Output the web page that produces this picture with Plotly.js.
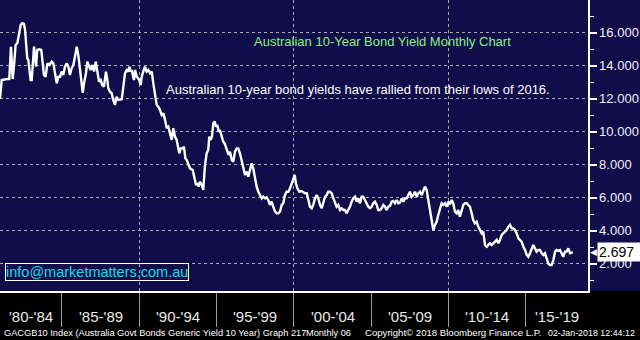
<!DOCTYPE html>
<html>
<head>
<meta charset="utf-8">
<script src="https://cdn.plot.ly/plotly-3.0.1.min.js"></script>
<style>
  html, body { margin: 0; padding: 0; background: #000; }
  #chart { width: 640px; height: 340px; }
</style>
</head>
<body>
<div id="chart"></div>
<script>
// Australian 10-year bond yield, monthly (decimal year, yield %)
const years = [
  1981.00,1981.11,1981.47,1981.60,1981.71,1981.82,1981.90,1982.01,1982.12,1982.25,
  1982.34,1982.44,1982.55,1982.62,1982.68,1982.76,1982.83,1982.89,1982.98,1983.05,
  1983.11,1983.20,1983.26,1983.33,1983.41,1983.54,1983.67,1983.76,1983.84,1983.95,
  1984.06,1984.19,1984.34,1984.45,1984.56,1984.67,1984.77,1984.88,1984.99,1985.09,
  1985.20,1985.31,1985.42,1985.52,1985.63,1985.74,1985.85,1985.96,1986.06,1986.17,
  1986.28,1986.35,1986.43,1986.56,1986.64,1986.77,1986.86,1986.99,1987.08,1987.19,
  1987.29,1987.40,1987.51,1987.61,1987.72,1987.85,1987.94,1988.00,1988.11,1988.22,
  1988.32,1988.43,1988.54,1988.65,1988.87,1988.97,1989.08,1989.19,1989.29,1989.36,
  1989.45,1989.51,1989.58,1989.66,1989.73,1989.84,1989.94,1990.00,1990.09,1990.16,
  1990.26,1990.37,1990.48,1990.59,1990.70,1990.81,1990.91,1991.02,1991.13,1991.23,
  1991.34,1991.45,1991.56,1991.67,1991.78,1991.88,1991.99,1992.10,1992.20,1992.31,
  1992.42,1992.53,1992.59,1992.68,1992.81,1992.89,1992.98,1993.07,1993.17,1993.28,
  1993.46,1993.54,1993.67,1993.75,1993.84,1993.93,1994.04,1994.14,1994.25,1994.36,
  1994.46,1994.53,1994.62,1994.70,1994.79,1994.88,1994.96,1995.05,1995.14,1995.22,
  1995.33,1995.43,1995.52,1995.61,1995.69,1995.78,1995.87,1995.98,1996.08,1996.19,
  1996.30,1996.40,1996.51,1996.62,1996.73,1996.84,1996.95,1997.05,1997.16,1997.27,
  1997.37,1997.48,1997.59,1997.70,1997.81,1997.92,1998.02,1998.13,1998.24,1998.34,
  1998.45,1998.56,1998.67,1998.78,1998.89,1998.99,1999.10,1999.21,1999.31,1999.42,
  1999.53,1999.64,1999.75,1999.86,1999.96,2000.05,2000.13,2000.22,2000.35,2000.46,
  2000.57,2000.72,2000.83,2000.93,2001.04,2001.15,2001.25,2001.36,2001.47,2001.58,
  2001.69,2001.80,2001.90,2002.01,2002.12,2002.22,2002.33,2002.44,2002.55,2002.65,
  2002.76,2002.87,2002.98,2003.09,2003.19,2003.30,2003.41,2003.51,2003.62,2003.73,
  2003.84,2003.95,2004.06,2004.16,2004.27,2004.38,2004.48,2004.59,2004.70,2004.81,
  2004.92,2005.03,2005.13,2005.24,2005.35,2005.45,2005.56,2005.67,2005.78,2005.89,
  2005.99,2006.10,2006.21,2006.32,2006.42,2006.53,2006.64,2006.75,2006.86,2006.97,
  2007.07,2007.18,2007.29,2007.40,2007.50,2007.61,2007.72,2007.83,2007.94,2008.04,
  2008.15,2008.26,2008.36,2008.47,2008.58,2008.69,2008.80,2008.91,2009.01,2009.12,
  2009.23,2009.33,2009.44,2009.55,2009.66,2009.77,2009.88,2009.98,2010.09,2010.20,
  2010.30,2010.41,2010.52,2010.62,2010.73,2010.84,2010.95,2011.06,2011.17,2011.27,
  2011.38,2011.49,2011.59,2011.70,2011.81,2011.92,2012.03,2012.14,2012.24,2012.35,
  2012.46,2012.56,2012.67,2012.78,2012.89,2013.00,2013.11,2013.21,2013.32,2013.43,
  2013.53,2013.64,2013.75,2013.86,2013.97,2014.08,2014.18,2014.29,2014.40,2014.51,
  2014.61,2014.72,2014.83,2014.94,2015.05,2015.15,2015.26,2015.37,2015.47,2015.58,
  2015.69,2015.80,2015.91,2016.02,2016.12,2016.23,2016.34,2016.44,2016.55,2016.66,
  2016.77,2016.88,2016.99,2017.09,2017.20,2017.31,2017.41,2017.52,2017.63,2017.74,
  2017.85,2017.96,2018.02
];
const yields = [
  11.98,13.13,13.19,13.19,15.15,13.19,13.94,15.25,15.36,16.16,
  16.47,16.57,16.53,16.16,15.36,14.45,14.35,13.74,13.13,13.13,
  13.94,15.15,14.55,13.94,14.95,14.99,14.95,13.94,13.44,13.33,
  14.14,14.04,14.24,14.14,13.64,12.93,13.33,13.33,13.64,13.44,
  13.94,14.14,13.94,13.44,13.84,14.04,14.55,15.15,14.65,13.74,
  13.13,12.36,12.93,13.54,14.24,13.94,13.74,14.04,13.64,14.24,
  13.74,13.03,13.13,12.83,12.73,13.64,13.13,12.63,12.42,12.33,
  11.92,11.62,12.12,11.92,11.96,12.73,13.54,13.74,13.64,13.94,
  13.64,13.74,13.44,13.13,13.74,13.33,13.23,13.13,12.83,13.33,
  13.64,13.94,13.64,13.74,13.54,13.64,12.93,12.12,11.62,11.52,
  11.32,11.01,11.12,10.71,10.21,10.30,9.90,9.50,10.21,9.70,
  9.50,9.09,8.69,8.99,8.99,9.09,8.39,8.28,7.98,7.78,
  7.68,7.27,6.77,6.87,6.67,6.97,6.77,6.47,7.98,8.69,
  8.89,9.70,9.50,9.70,10.51,10.61,10.30,10.41,10.00,10.10,
  9.70,9.39,9.29,8.99,8.89,8.59,8.79,8.28,8.18,8.79,
  8.99,8.99,8.69,8.18,7.78,7.38,7.58,7.27,7.68,8.08,
  7.78,7.07,6.67,6.36,6.16,5.96,6.06,5.96,6.02,5.86,
  5.56,5.76,5.45,5.15,5.05,5.05,5.15,5.56,5.66,6.16,
  6.36,6.36,6.57,6.87,7.07,7.38,6.87,6.57,6.36,6.40,
  6.36,6.27,6.27,5.86,5.45,5.36,5.56,5.96,6.16,5.96,
  5.56,5.36,5.76,6.06,6.16,6.36,6.36,6.27,5.96,5.66,
  5.45,5.56,5.25,5.36,5.25,5.25,5.05,5.25,5.45,5.76,
  5.96,6.06,5.76,5.96,5.66,6.06,6.06,5.86,5.66,5.45,
  5.36,5.45,5.66,5.76,5.56,5.25,5.25,5.36,5.56,5.45,
  5.25,5.45,5.50,5.76,5.80,5.66,5.86,5.66,5.70,5.96,
  5.76,5.96,5.96,6.16,6.36,6.06,6.16,6.36,6.06,6.26,
  6.36,6.16,6.36,6.67,6.47,5.86,5.36,4.65,4.04,4.35,
  4.55,4.95,5.36,5.66,5.56,5.66,5.45,5.76,5.60,5.86,
  5.66,5.15,5.05,5.25,4.85,5.25,5.56,5.66,5.66,5.56,
  5.45,5.05,4.65,4.45,4.55,4.24,4.04,3.84,3.94,3.13,
  3.03,3.13,3.24,3.13,3.24,3.33,3.44,3.24,3.44,3.74,
  3.84,3.94,4.04,4.24,4.35,4.14,4.14,4.04,3.84,3.54,
  3.44,3.33,3.03,2.83,2.53,2.42,2.63,2.93,3.13,2.93,
  2.73,2.83,2.83,2.63,2.53,2.63,2.33,2.02,1.92,1.92,
  2.22,2.73,2.83,2.78,2.83,2.63,2.42,2.73,2.73,2.93,
  2.63,2.67,2.697
];

// Axis ticks / labels
const periodLabels = ["'80-'84","'85-'89","'90-'94","'95-'99","'00-'04","'05-'09","'10-'14","'15-'19"];
const periodLabelPos = [1983.0, 1987.5, 1992.5, 1997.5, 2002.5, 2007.5, 2012.5, 2017.0];
const decadeLines = [1990, 2000, 2010];
const halfDecadeLines = [1985, 1995, 2005, 2015];
const yTickVals = [2, 4, 6, 8, 10, 12, 14, 16];
const yTickText = ['2.000','4.000','6.000','8.000','10.000','12.000','14.000','16.000'];
const yMinorVals = [1, 3, 5, 7, 9, 11, 13, 15, 17];

const titleText = 'Australian 10-Year Bond Yield Monthly Chart';
const noteText = 'Australian 10-year bond yields have rallied from their lows of 2016.';
const emailText = 'info@marketmatters.com.au';
const footer1 = 'GACGB10 Index (Australia Govt Bonds Generic Yield 10 Year) Graph 217';
const footer2 = 'Monthly 06';
const footer3 = 'Copyright\u00A9 2018 Bloomberg Finance L.P.';
const footer4 = '02-Jan-2018 12:44:12';

const navy = '#100d4a';
const FONT = 'Liberation Sans, Arial, sans-serif';
const lastVal = yields[yields.length - 1];

const traces = [
  { type: 'scatter', mode: 'lines', x: years, y: yields,
    line: { color: '#ffffff', width: 2.4 }, hoverinfo: 'skip' }
];

const periodAnnotations = periodLabels.map((t, i) => ({
  xref: 'x', yref: 'paper', x: periodLabelPos[i], y: -0.0883,
  xanchor: 'center', yanchor: 'middle', text: t, showarrow: false,
  font: { family: FONT, size: 15, color: '#e8e8e8' }
}));

const footY = -0.1443;
const layout = {
  width: 640, height: 340,
  margin: { l: 0, r: 52, t: 0, b: 49, pad: 0 },
  paper_bgcolor: '#000000',
  plot_bgcolor: navy,
  showlegend: false,
  font: { family: FONT, color: '#ffffff' },
  xaxis: {
    type: 'linear', range: [1981.0, 2019.01], automargin: false,
    tickmode: 'array', tickvals: decadeLines, showticklabels: false,
    ticks: 'outside', ticklen: 34, tickcolor: '#9a9a9a', tickwidth: 1,
    showgrid: true, gridcolor: '#a8a8a8', griddash: 'dot', gridwidth: 1,
    minor: { tickmode: 'array', tickvals: halfDecadeLines, ticks: 'outside', ticklen: 34,
             tickcolor: '#9a9a9a', tickwidth: 1, showgrid: false },
    showline: true, linecolor: '#ffffff', linewidth: 1.5, zeroline: false
  },
  yaxis: {
    side: 'right', range: [0.345, 17.98], automargin: false,
    tickmode: 'array', tickvals: yTickVals, ticktext: yTickText,
    ticks: 'outside', ticklen: 7, tickwidth: 2, tickcolor: '#ffffff',
    tickfont: { family: FONT, size: 13, color: '#f0f0f8' },
    minor: { tickmode: 'array', tickvals: yMinorVals, ticks: 'outside', ticklen: 4,
             tickcolor: '#ffffff', tickwidth: 1, showgrid: false },
    showgrid: true, gridcolor: '#a8a8a8', griddash: 'dot', gridwidth: 1,
    showline: true, linecolor: '#ffffff', linewidth: 1.5, zeroline: false
  },
  shapes: [
    { type: 'rect', xref: 'paper', yref: 'paper', x0: 1, x1: 1.2, y0: 0, y1: 1,
      fillcolor: navy, line: { width: 0 }, layer: 'below' }
  ],
  annotations: periodAnnotations.concat([
    { xref: 'paper', yref: 'paper', x: 0.6497, y: 0.859, xanchor: 'center', yanchor: 'middle',
      text: titleText, showarrow: false, font: { family: FONT, size: 13, color: '#84f084' } },
    { xref: 'paper', yref: 'paper', x: 0.608, y: 0.694, xanchor: 'center', yanchor: 'middle',
      text: noteText, showarrow: false, font: { family: FONT, size: 13, color: '#ffffff' } },
    { xref: 'paper', yref: 'paper', x: 0.0085, y: 0.0653, xanchor: 'left', yanchor: 'middle',
      text: emailText, showarrow: false, bordercolor: '#ffffff', borderwidth: 1, borderpad: 0,
      font: { family: FONT, size: 14.5, color: '#12dce6' } },
    { xref: 'paper', yref: 'y', x: 1, y: lastVal, xanchor: 'left', yanchor: 'middle', xshift: 9,
      text: lastVal.toFixed(3), showarrow: false, bgcolor: '#ffffff', width: 41, align: 'left',
      borderpad: 1, font: { family: FONT, size: 14, color: '#000000' } },
    { xref: 'paper', yref: 'y', x: 1, y: lastVal, xanchor: 'left', yanchor: 'middle', xshift: 0,
      text: '\u25C0', showarrow: false, font: { family: 'DejaVu Sans', size: 9, color: '#ffffff' } },
    { xref: 'paper', yref: 'paper', x: 2/588, y: footY, xanchor: 'left', yanchor: 'middle',
      text: footer1, showarrow: false, font: { family: FONT, size: 9.25, color: '#ffffff' } },
    { xref: 'paper', yref: 'paper', x: 304/588, y: footY, xanchor: 'left', yanchor: 'middle',
      text: footer2, showarrow: false, font: { family: FONT, size: 9.2, color: '#ffffff' } },
    { xref: 'paper', yref: 'paper', x: 363/588, y: footY, xanchor: 'left', yanchor: 'middle',
      text: footer3, showarrow: false, font: { family: FONT, size: 9.6, color: '#ffffff' } },
    { xref: 'paper', yref: 'paper', x: 637/588, y: footY, xanchor: 'right', yanchor: 'middle',
      text: footer4, showarrow: false, font: { family: FONT, size: 8.9, color: '#ffffff' } }
  ])
};

Plotly.newPlot('chart', traces, layout, { displayModeBar: false, staticPlot: true });
</script>
</body>
</html>
